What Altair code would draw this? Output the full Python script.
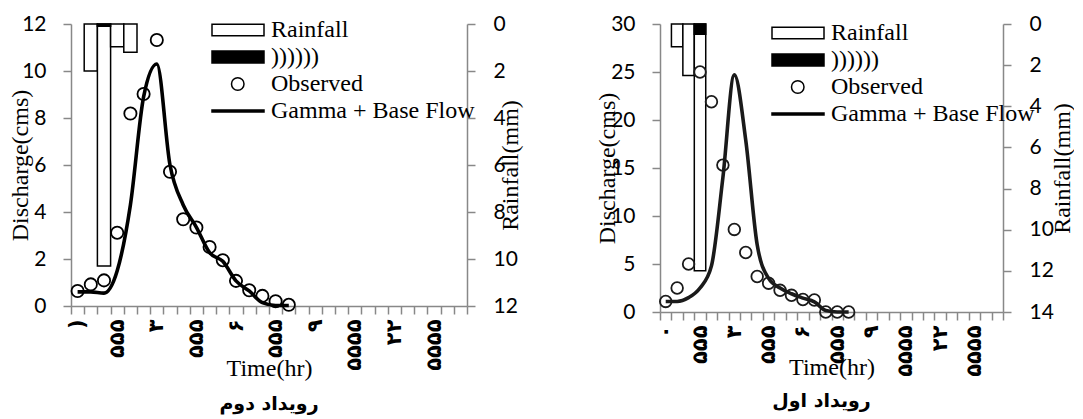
import altair as alt
import pandas as pd

# ---------------- categories (time, hr) ----------------
times = ["0", "0.5", "1", "1.5", "2", "2.5", "3", "3.5", "4", "4.5",
         "5", "5.5", "6", "6.5", "7", "7.5", "8", "8.5", "9", "9.5",
         "10", "10.5", "11", "11.5", "12", "12.5", "13", "13.5", "14", "14.5"]
obs_times = ["0", "0.5", "1", "1.5", "2", "2.5", "3", "3.5", "4", "4.5",
             "5", "5.5", "6", "6.5", "7", "7.5", "8"]

# tick labels (as they appear, rotated)
label_times = ["0", "1.5", "3", "4.5", "6", "7.5", "9", "10.5", "12", "13.5"]
left_labels = [")", "۵۵۵", "۳", "۵۵۵", "۶", "۵۵۵", "۹", "۵۵۵۵", "۲۲", "۵۵۵۵"]
right_labels = ["۰", "۵۵۵", "۳", "۵۵۵", "۶", "۵۵۵", "۹", "۵۵۵۵", "۲۲", "۵۵۵۵"]

series_names = ["Rainfall", "))))))", "Observed", "Gamma + Base Flow"]

# ---------------- left panel: رویداد دوم ----------------
L_obs = [0.64, 0.92, 1.09, 3.12, 8.19, 9.02, 11.32, 5.71, 3.69, 3.34,
         2.51, 1.95, 1.07, 0.67, 0.43, 0.20, 0.05]
L_model = [0.60, 0.60, 0.55, 1.50, 4.30, 8.90, 10.30, 6.00, 4.30, 3.35,
           2.27, 1.90, 1.07, 0.64, 0.14, 0.02, 0.02]
L_rain_t = ["0.5", "1", "1.5", "2"]
L_rain = [2.0, 10.3, 0.97, 1.2]
L_dark_t = ["1"]
L_dark = [0.1]
L_q_ticks = [0, 2, 4, 6, 8, 10, 12]
L_r_ticks = [0, 2, 4, 6, 8, 10, 12]

# ---------------- right panel: رویداد اول ----------------
R_obs = [1.1, 2.5, 5.0, 25.0, 21.9, 15.3, 8.6, 6.2, 3.7, 3.0,
         2.26, 1.74, 1.3, 1.25, 0.0, 0.0, 0.0]
R_model = [1.1, 1.1, 1.5, 2.5, 4.8, 14.0, 24.7, 17.9, 7.0, 3.5,
           2.5, 1.9, 1.45, 1.05, 0.15, 0.0, 0.0]
R_rain_t = ["0.5", "1", "1.5"]
R_rain = [1.1, 2.5, 12.0]
R_dark_t = ["1.5"]
R_dark = [0.5]
R_q_ticks = [0, 5, 10, 15, 20, 25, 30]
R_r_ticks = [0, 2, 4, 6, 8, 10, 12, 14]

# legend symbol paths (unit = sqrt(symbolSize)/2 px)
BOX = "M-9.4,-1.15H1V1.15H-9.4Z"
DARKBOX = "M-9.4,-1.2H1V1.2H-9.4Z"
CIRC = "M-5.5,0A1.25,1.25 0 1,0 -3.0,0A1.25,1.25 0 1,0 -5.5,0Z"
LINE = "M-9.4,-0.2H1V0.2H-9.4Z"

GRAY = "#888888"
NUMFONT = "Lato"
SERIF = "Liberation Serif"


def label_expr(labels):
    ts = ",".join("'%s'" % t for t in label_times)
    ls = ",".join("'%s'" % l for l in labels)
    return ("indexof([%s], datum.value) >= 0 ? [%s][indexof([%s], datum.value)] : ''"
            % (ts, ls, ts))


def panel(obs, model, rain_t, rain, dark_t, dark, labels, q_ticks, r_ticks,
          w, h, legx, legy, ytitle_x, rtitle_x, xtitle_y, title, title_off,
          title_dx, ptsize, color):
    qmax = q_ticks[-1]
    rmax = r_ticks[-1]
    xenc = alt.X(
        "t:O",
        scale=alt.Scale(type="band", domain=times, paddingInner=0, paddingOuter=0),
        axis=alt.Axis(
            title="Time(hr)", labelExpr=label_expr(labels), labelAngle=270,
            labelAlign="right", labelBaseline="middle", labelFont="DejaVu Sans",
            labelFontWeight="bold", labelFontSize=21, labelColor="black",
            labelPadding=5, labelOverlap=False, tickBand="extent", tickSize=8,
            tickColor=GRAY, tickWidth=1.5, domainColor=GRAY, domainWidth=1.5,
            titleFont=SERIF, titleFontSize=24, titleFontWeight="normal",
            titleColor="black", titleY=xtitle_y, titleBaseline="middle",
        ),
    )
    qaxis = alt.Axis(
        title="Discharge(cms)", orient="left", values=q_ticks, grid=False,
        labelFont=NUMFONT, labelFontSize=21, labelColor="black", labelPadding=17,
        tickSize=8, tickColor=GRAY, tickWidth=1.5, domainColor=GRAY, domainWidth=1.5,
        titleFont=SERIF, titleFontSize=24, titleFontWeight="normal", titleColor="black",
        titleX=ytitle_x, titleY=h / 2, titleAngle=270, titleAlign="center",
        titleBaseline="middle",
    )
    raxis = alt.Axis(
        title="Rainfall(mm)", orient="right", values=r_ticks, grid=False,
        labelFont=NUMFONT, labelFontSize=21, labelColor="black", labelPadding=18,
        tickSize=8, tickColor=GRAY, tickWidth=1.5, domainColor=GRAY, domainWidth=1.5,
        titleFont=SERIF, titleFontSize=24, titleFontWeight="normal", titleColor="black",
        titleX=rtitle_x, titleY=h / 2, titleAngle=270, titleAlign="center",
        titleBaseline="middle",
    )
    qenc = alt.Y("q:Q", scale=alt.Scale(domain=[0, qmax], nice=False, zero=True), axis=qaxis)
    renc = alt.Y("r:Q", scale=alt.Scale(domain=[0, rmax], nice=False, reverse=True), axis=raxis)

    rain_df = pd.DataFrame({"t": rain_t, "r": rain})
    dark_df = pd.DataFrame({"t": dark_t, "r": dark})
    obs_df = pd.DataFrame({"t": obs_times, "q": obs})
    mod_df = pd.DataFrame({"t": obs_times, "q": model})
    leg_df = pd.DataFrame({"s": series_names})

    bars = alt.Chart(rain_df).mark_bar(fill="white", stroke="black", strokeWidth=1.5).encode(x=xenc, y=renc)
    darkbars = alt.Chart(dark_df).mark_bar(fill="black", stroke="black", strokeWidth=1.5).encode(x=xenc, y=renc)
    line = alt.Chart(mod_df).mark_line(interpolate="monotone", strokeWidth=3.6, color=color).encode(x=xenc, y=qenc)
    pts = alt.Chart(obs_df).mark_point(shape="circle", size=ptsize, strokeWidth=1.8,
                                       color=color, filled=False, opacity=1).encode(x=xenc, y=qenc)

    leg = alt.Legend(
        title=None, orient="none", legendX=legx, legendY=legy,
        labelFont=SERIF, labelFontSize=24, labelColor="black",
        symbolSize=100, symbolStrokeWidth=1.5, labelOffset=0, rowPadding=3,
        symbolOffset=0, padding=0, labelLimit=400,
    )
    legend_layer = alt.Chart(leg_df).mark_point(filled=True, clip=True, stroke="black",
                                                strokeWidth=1.5, opacity=1).encode(
        x=alt.value(-500), y=alt.value(-500),
        shape=alt.Shape("s:N", scale=alt.Scale(domain=series_names, range=[BOX, DARKBOX, CIRC, LINE]), legend=leg),
        fill=alt.Fill("s:N", scale=alt.Scale(domain=series_names, range=["white", "black", "white", "black"]), legend=leg),
    )

    chart = alt.layer(
        alt.layer(bars, darkbars),
        alt.layer(line, pts, legend_layer),
    ).resolve_scale(y="independent").properties(
        width=w, height=h,
        title=alt.TitleParams(
            text=title, orient="bottom", frame="group", offset=title_off,
            font="DejaVu Sans", fontSize=19, fontWeight="bold", color="black",
            anchor="middle", dx=title_dx, baseline="middle",
        ),
    )
    return chart


left = panel(L_obs, L_model, L_rain_t, L_rain, L_dark_t, L_dark, left_labels,
             L_q_ticks, L_r_ticks, w=396, h=282, legx=176, legy=-6,
             ytitle_x=-51, rtitle_x=43, xtitle_y=62, title="رویداد دوم",
             title_off=24, title_dx=0, ptsize=150, color="black")
right = panel(R_obs, R_model, R_rain_t, R_rain, R_dark_t, R_dark, right_labels,
              R_q_ticks, R_r_ticks, w=343, h=288, legx=147, legy=-3,
              ytitle_x=-53, rtitle_x=59, xtitle_y=55, title="رویداد اول",
              title_off=22, title_dx=-10, ptsize=135, color="#1a1a1a")

chart = alt.hconcat(left, right, spacing=193, bounds="flush").resolve_scale(
    shape="independent", fill="independent"
).resolve_legend(
    shape="independent", fill="independent"
).configure_view(
    stroke=None
).properties(
    padding={"left": 0, "top": 5, "right": 0, "bottom": 4},
    background="white",
)

chart.save("out.html", embed_options={"renderer": "svg", "actions": False})
